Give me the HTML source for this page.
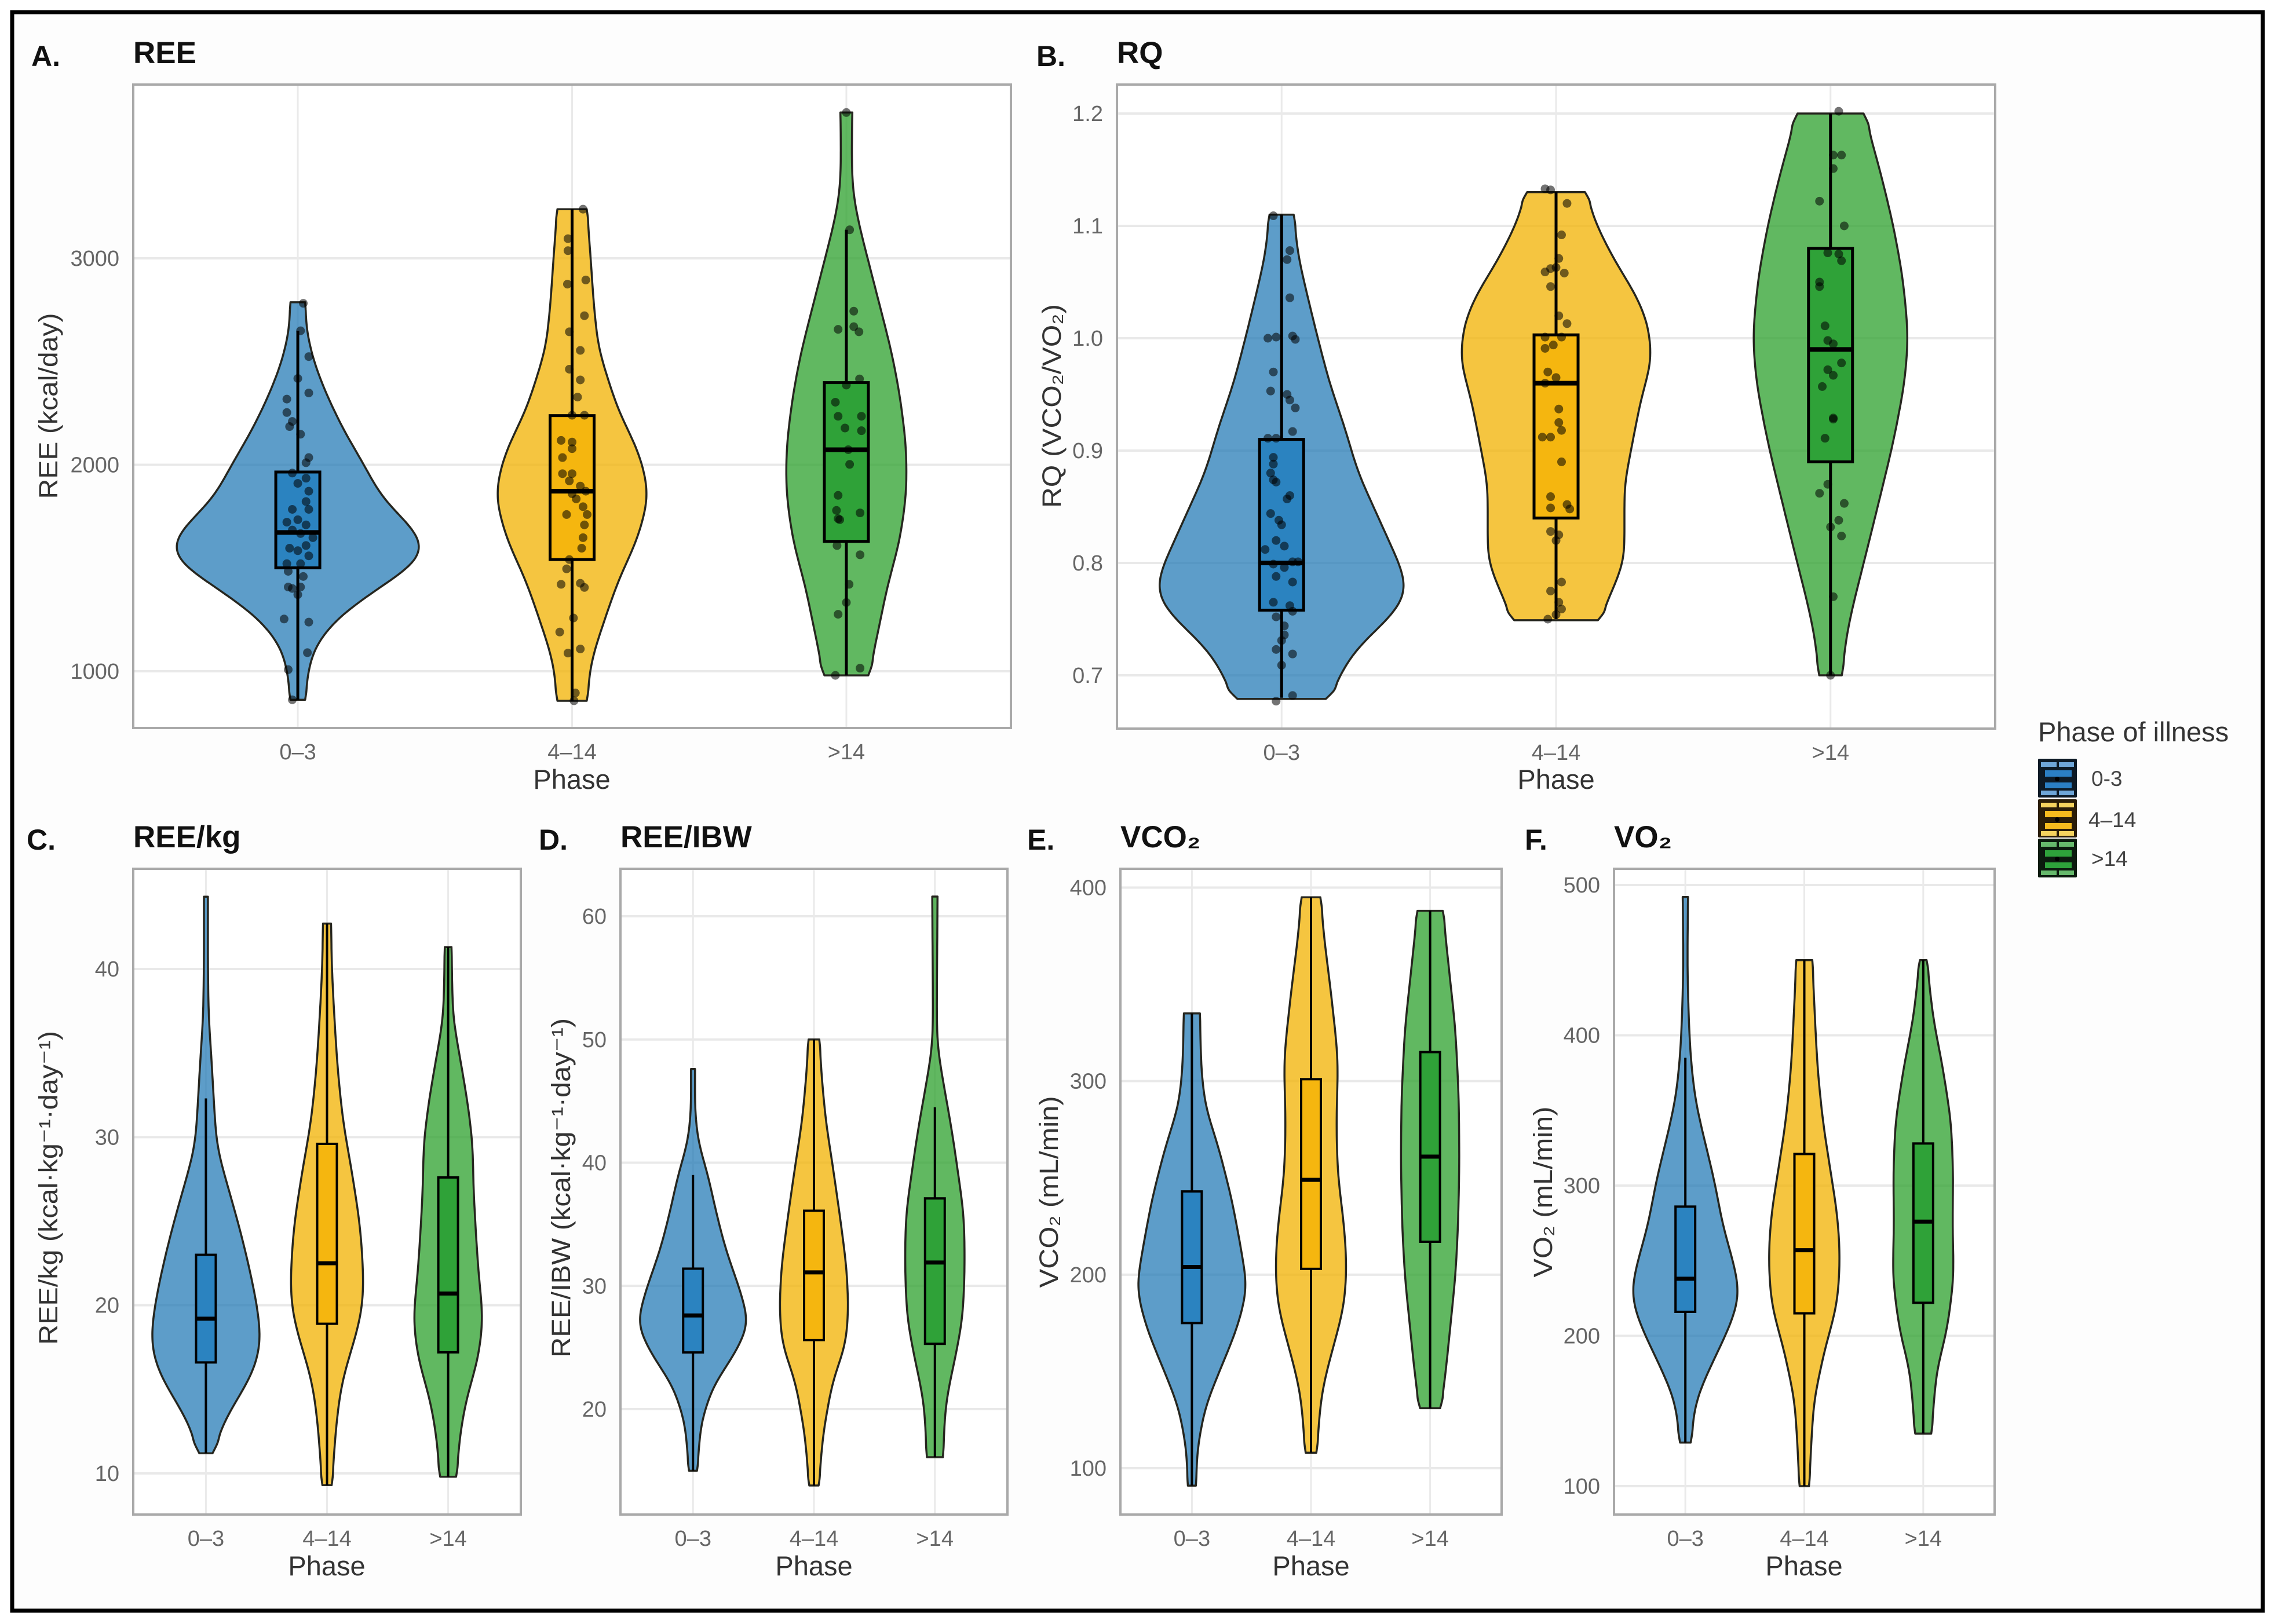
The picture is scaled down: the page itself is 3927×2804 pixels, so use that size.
<!DOCTYPE html>
<html lang="en">
<head>
<meta charset="utf-8">
<title>Phase of illness violin plots</title>
<style>
html,body{margin:0;padding:0;background:#fff;}
svg{display:block;}
text{font-family:"Liberation Sans","DejaVu Sans",sans-serif;}
.panel-letter{font-size:50px;font-weight:700;fill:#111;}
.panel-title{font-size:53px;font-weight:700;fill:#111;}
.axis-title{font-size:47px;fill:#333;}
.y-title{font-size:45px;fill:#333;}
.legend-label{font-size:37px;fill:#444;}
</style>
</head>
<body>
<svg id="figure" xmlns="http://www.w3.org/2000/svg" width="3927" height="2804" viewBox="0 0 3927 2804">
  <rect x="0" y="0" width="3927" height="2804" fill="#ffffff"/>
  <rect x="21" y="21" width="3885" height="2760" fill="#fdfdfd" stroke="#000" stroke-width="7"/>

  <g id="plots"></g>

  <text class="panel-letter" x="54" y="114">A.</text>
  <text class="panel-title" x="230" y="109">REE</text>
  <text class="panel-letter" x="1789" y="114">B.</text>
  <text class="panel-title" x="1928" y="109">RQ</text>
  <text class="panel-letter" x="46" y="1467">C.</text>
  <text class="panel-title" x="230" y="1463">REE/kg</text>
  <text class="panel-letter" x="930" y="1467">D.</text>
  <text class="panel-title" x="1071" y="1463">REE/IBW</text>
  <text class="panel-letter" x="1773" y="1467">E.</text>
  <text class="panel-title" x="1934" y="1463">VCO₂</text>
  <text class="panel-letter" x="2632" y="1467">F.</text>
  <text class="panel-title" x="2786" y="1463">VO₂</text>

  <text class="axis-title" text-anchor="middle" x="987" y="1362">Phase</text>
  <text class="axis-title" text-anchor="middle" x="2686" y="1362">Phase</text>
  <text class="axis-title" text-anchor="middle" x="564" y="2720">Phase</text>
  <text class="axis-title" text-anchor="middle" x="1405" y="2720">Phase</text>
  <text class="axis-title" text-anchor="middle" x="2263" y="2720">Phase</text>
  <text class="axis-title" text-anchor="middle" x="3114" y="2720">Phase</text>

  <text class="y-title" text-anchor="middle" textLength="321" lengthAdjust="spacingAndGlyphs" transform="translate(99 701) rotate(-90)">REE (kcal/day)</text>
  <text class="y-title" text-anchor="middle" textLength="352" lengthAdjust="spacingAndGlyphs" transform="translate(1831 701) rotate(-90)">RQ (VCO₂/VO₂)</text>
  <text class="y-title" text-anchor="middle" textLength="542" lengthAdjust="spacingAndGlyphs" transform="translate(99 2051) rotate(-90)">REE/kg (kcal·kg⁻¹·day⁻¹)</text>
  <text class="y-title" text-anchor="middle" textLength="586" lengthAdjust="spacingAndGlyphs" transform="translate(984 2051) rotate(-90)">REE/IBW (kcal·kg⁻¹·day⁻¹)</text>
  <text class="y-title" text-anchor="middle" textLength="331" lengthAdjust="spacingAndGlyphs" transform="translate(1826 2058) rotate(-90)">VCO₂ (mL/min)</text>
  <text class="y-title" text-anchor="middle" textLength="295" lengthAdjust="spacingAndGlyphs" transform="translate(2679 2058) rotate(-90)">VO₂ (mL/min)</text>

  <g>
    <text x="3518" y="1280" font-size="47" fill="#333">Phase of illness</text>

    <g transform="translate(3518 1310)">
      <rect x="0" y="0" width="67" height="67" rx="2" fill="#0d1a26"/>
      <rect x="5" y="6" width="27" height="8" fill="#6ea6d8"/><rect x="36" y="6" width="26" height="8" fill="#6ea6d8"/>
      <rect x="12" y="20" width="46" height="11" fill="#2b7fc4"/><rect x="12" y="41" width="46" height="10" fill="#2b7fc4"/>
      <rect x="5" y="55" width="27" height="8" fill="#6ea6d8"/><rect x="36" y="55" width="26" height="8" fill="#6ea6d8"/>
      <circle cx="33" cy="35" r="4" fill="#000"/>
    </g>
    <text class="legend-label" x="3610" y="1357">0-3</text>

    <g transform="translate(3518 1380)">
      <rect x="0" y="0" width="67" height="66" rx="2" fill="#2a1d08"/>
      <rect x="5" y="6" width="27" height="8" fill="#f5d35f"/><rect x="36" y="6" width="26" height="8" fill="#f5d35f"/>
      <rect x="12" y="20" width="46" height="11" fill="#f6bb1e"/><rect x="12" y="41" width="46" height="10" fill="#f6bb1e"/>
      <rect x="5" y="55" width="27" height="8" fill="#f5d35f"/><rect x="36" y="55" width="26" height="8" fill="#f5d35f"/>
      <circle cx="33" cy="35" r="4" fill="#000"/>
    </g>
    <text class="legend-label" x="3605" y="1428">4–14</text>

    <g transform="translate(3518 1448)">
      <rect x="0" y="0" width="67" height="67" rx="2" fill="#0b1a0e"/>
      <rect x="5" y="6" width="27" height="8" fill="#66b96c"/><rect x="36" y="6" width="26" height="8" fill="#66b96c"/>
      <rect x="12" y="20" width="46" height="11" fill="#2ea23b"/><rect x="12" y="41" width="46" height="10" fill="#2ea23b"/>
      <rect x="5" y="55" width="27" height="8" fill="#66b96c"/><rect x="36" y="55" width="26" height="8" fill="#66b96c"/>
      <circle cx="33" cy="35" r="4" fill="#000"/>
    </g>
    <text class="legend-label" x="3610" y="1495">&gt;14</text>
  </g>
</svg>

<script>
// ----- shared category labels -----
const categories = ['0–3', '4–14', '>14'];

// ----- Panel A: REE -----
const reeTicks = [1000, 2000, 3000];
const reeBlueValues = [2787, 2649, 2499, 2348, 2173, 1997, 1847, 1747, 1672, 1591, 1521, 1421, 1321, 1245, 1120, 995, 862];
const reeBlueDensity = [11, 13, 24, 42, 68, 100, 125, 155, 180, 190, 178, 130, 85, 55, 25, 15, 11];
const reeBlueBox = [862, 1501, 1672, 1965, 2649];
const reeYellowValues = [3238, 3125, 3000, 2799, 2569, 2373, 2240, 2123, 2007, 1847, 1634, 1446, 1213, 1045, 857];
const reeYellowDensity = [22, 25, 28, 32, 39, 58, 72, 92, 106, 116, 98, 70, 45, 28, 22];
const reeYellowBox = [857, 1541, 1872, 2238, 3238];
const reeGreenValues = [3706, 3501, 3326, 3175, 3000, 2799, 2549, 2348, 2098, 1872, 1621, 1421, 1195, 980];
const reeGreenDensity = [9, 8, 9, 18, 32, 48, 68, 80, 90, 91, 80, 62, 48, 33];
const reeGreenBox = [980, 1629, 2073, 2398, 3138];
const reeBluePoints = [2782, 2649, 2524, 2418, 2348, 2318, 2253, 2210, 2185, 2148, 2035, 2010, 1960, 1935, 1910, 1872, 1822, 1784, 1734, 1784, 1722, 1684, 1709, 1667, 1647, 1596, 1584, 1609, 1559, 1521, 1521, 1484, 1459, 1408, 1401, 1408, 1371, 1253, 1238, 1090, 1008, 862];
const reeBlueJitter = [.02, .01, .04, 0, .04, -.04, -.04, -.02, -.03, .01, .04, .03, -.02, .03, 0, .04, .03, -.02, 0, .04, -.04, -.02, .03, .01, .055, -.03, 0, .03, .04, -.04, .01, -.035, .02, -.035, -.02, .01, 0, -.05, .04, .035, -.035, -.02];
const reeYellowPoints = [3238, 3095, 3037, 2875, 2895, 2722, 2644, 2554, 2463, 2411, 2328, 2240, 2240, 2118, 2110, 2078, 2035, 1957, 1957, 1922, 1897, 1872, 1860, 1835, 1759, 1797, 1759, 1709, 1647, 1596, 1541, 1496, 1421, 1426, 1406, 1258, 1190, 1108, 1088, 895, 857];
const reeYellowJitter = [.04, -.015, -.015, -.017, .05, .045, -.01, .03, -.01, .03, .02, 0, .045, -.04, 0, 0, -.035, -.035, 0, -.01, .03, .05, 0, .015, -.02, .04, .055, .045, .04, .035, -.01, -.02, -.04, .03, .045, .005, -.045, .03, -.015, .012, .007];
const reeGreenPoints = [3706, 3138, 2744, 2656, 2669, 2644, 2416, 2386, 2303, 2235, 2235, 2178, 2165, 2073, 2002, 1852, 1779, 1767, 1734, 1739, 1609, 1564, 1421, 1333, 1276, 1015, 980];
const reeGreenJitter = [0, .012, .027, -.03, .027, .046, .048, 0, -.04, -.03, .055, -.005, .055, .007, .012, -.03, -.036, .05, -.024, -.03, -.034, .05, .01, 0, -.03, .05, -.04];

// ----- Panel B: RQ -----
const rqTicks = [0.7, 0.8, 0.9, 1.0, 1.1, 1.2];
const rqBlueValues = [1.110, 1.075, 1.038, 1.0, .959, .922, .880, .849, .817, .791, .770, .749, .723, .696, .679];
const rqBlueDensity = [15, 20, 32, 45, 60, 78, 95, 115, 135, 152, 157, 132, 90, 70, 55];
const rqBlueBox = [.68, .758, .80, .91, 1.11];
const rqYellowValues = [1.130, 1.101, 1.070, 1.038, 1.012, .980, .944, .907, .870, .838, .802, .775, .749];
const rqYellowDensity = [36, 50, 72, 100, 115, 119, 105, 95, 85, 85, 85, 70, 52];
const rqYellowBox = [.75, .84, .96, 1.003, 1.13];
const rqGreenValues = [1.2, 1.154, 1.101, 1.054, 1.001, .959, .907, .854, .802, .754, .723, .7];
const rqGreenDensity = [41, 60, 78, 90, 97, 92, 78, 60, 42, 25, 17, 14];
const rqGreenBox = [.7, .89, .99, 1.08, 1.2];
const rqBluePoints = [1.109, 1.078, 1.07, 1.036, 1.0, 1.001, 1.002, .999, .97, .953, .95, .945, .938, .917, .911, .911, .894, .888, .88, .874, .872, .86, .857, .844, .838, .834, .82, .815, .812, .801, .799, .801, .796, .788, .783, .765, .762, .757, .752, .744, .736, .731, .723, .719, .709, .677, .682];
const rqBlueJitter = [-.03, .03, .02, .03, -.05, -.02, .04, .05, -.03, -.04, .02, .03, .05, .04, -.05, -.02, -.03, -.03, -.04, -.03, -.02, .03, .02, -.04, -.01, 0, -.02, .01, -.06, .04, -.03, .06, .01, -.02, .04, -.03, .03, .04, -.02, .01, .01, 0, -.02, .04, 0, -.02, .04];
const rqYellowPoints = [1.133, 1.132, 1.12, 1.092, 1.071, 1.059, 1.062, 1.063, 1.058, 1.046, 1.02, 1.013, 1.001, 1.001, .994, .991, .97, .965, .96, .937, .925, .918, .912, .912, .89, .859, .852, .849, .848, .828, .825, .82, .775, .783, .765, .759, .75, .754];
const rqYellowJitter = [-.04, -.02, .04, .02, .01, -.04, -.02, 0, .03, -.02, .01, .04, -.04, .02, -.01, -.04, -.03, 0, -.04, .01, .01, .02, -.05, -.02, .02, -.02, .04, -.02, .05, -.02, .01, 0, -.02, .02, .01, .02, -.03, 0];
const rqGreenPoints = [1.202, 1.163, 1.163, 1.151, 1.122, 1.1, 1.076, 1.075, 1.069, 1.05, 1.046, 1.011, .998, .995, .978, .972, .967, .957, .929, .928, .911, .87, .862, .853, .838, .832, .824, .77, .7];
const rqGreenJitter = [.03, .01, .04, .01, -.04, .05, -.01, .03, .04, -.04, -.04, -.02, -.01, .01, .04, -.01, .01, -.03, .01, .01, -.02, -.01, -.04, .05, .03, 0, .04, .01, 0];

// ----- Panel C: REE/kg -----
const reeKgTicks = [10, 20, 30, 40];
const reeKgBlueValues = [44.3, 40.2, 37.1, 34.9, 32.1, 29.4, 27.2, 24.7, 22.3, 19.8, 17.6, 15.8, 14, 12.1, 11.2];
const reeKgBlueDensity = [3, 3, 4, 8, 12, 16, 32, 50, 65, 78, 84, 70, 40, 14, 10];
const reeKgBlueBox = [11.2, 16.6, 19.2, 23.0, 32.3];
const reeKgYellowValues = [42.7, 40.2, 37.1, 34, 30.9, 27.8, 24.7, 21.7, 19.8, 18, 15.5, 13, 9.3];
const reeKgYellowDensity = [6, 7, 11, 16, 24, 38, 50, 55, 54, 42, 22, 14, 7];
const reeKgYellowBox = [9.3, 18.9, 22.5, 29.6, 42.7];
const reeKgGreenValues = [41.3, 37.1, 34.9, 32.4, 29.7, 26.9, 24.1, 21.7, 19.2, 16.7, 14.6, 12.4, 9.8];
const reeKgGreenDensity = [5, 7, 17, 28, 37, 38, 42, 46, 53, 45, 28, 18, 12];
const reeKgGreenBox = [9.8, 17.2, 20.7, 27.6, 41.3];

// ----- Panel D: REE/IBW -----
const reeIbwTicks = [20, 30, 40, 50, 60];
const reeIbwBlueValues = [47.6, 44.1, 41.6, 39.1, 35.7, 32.8, 29.8, 26.9, 24.4, 21.9, 18.9, 15];
const reeIbwBlueDensity = [3, 3, 8, 22, 36, 50, 70, 85, 62, 30, 12, 6];
const reeIbwBlueBox = [15, 24.6, 27.6, 31.4, 39];
const reeIbwYellowValues = [50, 46.7, 43.3, 39.1, 34.9, 31.5, 28.2, 25.2, 22.3, 18.1, 13.8];
const reeIbwYellowDensity = [8, 12, 18, 30, 41, 49, 52, 48, 28, 14, 7];
const reeIbwYellowBox = [13.8, 25.6, 31.1, 36.1, 50];
const reeIbwGreenValues = [61.6, 53.8, 49.6, 46.7, 42.5, 39.1, 35.7, 31.5, 27.3, 24, 20.6, 16.1];
const reeIbwGreenDensity = [4, 3, 3, 12, 26, 35, 44, 45, 42, 30, 16, 12];
const reeIbwGreenBox = [16.1, 25.3, 31.9, 37.1, 44.5];

// ----- Panel E: VCO2 -----
const vco2Ticks = [100, 200, 300, 400];
const vco2BlueValues = [335, 306, 287, 266, 239, 217, 193, 172, 153, 132, 110, 91];
const vco2BlueDensity = [12, 14, 20, 40, 60, 72, 84, 68, 45, 20, 8, 6];
const vco2BlueBox = [91, 175, 204, 243, 335];
const vco2YellowValues = [395, 373, 346, 311, 279, 252, 225, 204, 183, 161, 140, 108];
const vco2YellowDensity = [14, 20, 30, 41, 38, 40, 50, 54, 50, 32, 16, 8];
const vco2YellowBox = [108, 203, 249, 301, 395];
const vco2GreenValues = [388, 359, 327, 292, 258, 225, 199, 172, 145, 131];
const vco2GreenDensity = [19, 28, 38, 43, 44, 42, 38, 30, 22, 15];
const vco2GreenBox = [131, 217, 261, 315, 388];

// ----- Panel F: VO2 -----
const vo2Ticks = [100, 200, 300, 400, 500];
const vo2BlueValues = [492, 446, 411, 384, 356, 328, 301, 273, 253, 227, 204, 180, 156, 129];
const vo2BlueDensity = [4, 3, 5, 8, 15, 30, 45, 56, 70, 84, 65, 38, 14, 8];
const vo2BlueBox = [129, 216, 238, 286, 385];
const vo2YellowValues = [450, 411, 377, 342, 308, 280, 253, 221, 190, 156, 100];
const vo2YellowDensity = [12, 16, 20, 28, 40, 50, 54, 50, 30, 14, 7];
const vo2YellowBox = [100, 215, 257, 321, 450];
const vo2GreenValues = [450, 411, 377, 342, 308, 273, 239, 204, 177, 135];
const vo2GreenDensity = [5, 15, 30, 42, 45, 44, 46, 36, 20, 12];
const vo2GreenBox = [135, 222, 276, 328, 450];

// ----- series styling -----
const seriesColors = [
  { key: 'blue', violin: '#1f77b4', box: '#2b83c0', opacity: 0.72 },
  { key: 'yellow', violin: '#f2b200', box: '#f5b60f', opacity: 0.75 },
  { key: 'green', violin: '#2ca02c', box: '#2fa238', opacity: 0.75 }
];

// ----- panel layout -----
const panels = [
  { id: 'a', left: 230, right: 1745, top: 146, bottom: 1257, anchor: [1000, 1159, 3000, 446], widthPerDensity: 1.148, boxHalf: 38, lineW: 5, medianW: 8,
    ticks: reeTicks, decimals: 0,
    violins: [[reeBlueValues, reeBlueDensity, reeBlueBox, reeBluePoints, reeBlueJitter], [reeYellowValues, reeYellowDensity, reeYellowBox, reeYellowPoints, reeYellowJitter], [reeGreenValues, reeGreenDensity, reeGreenBox, reeGreenPoints, reeGreenJitter]] },
  { id: 'b', left: 1928, right: 3444, top: 146, bottom: 1258, anchor: [0.7, 1166, 1.2, 196], widthPerDensity: 1.388, boxHalf: 38, lineW: 5, medianW: 8,
    ticks: rqTicks, decimals: 1,
    violins: [[rqBlueValues, rqBlueDensity, rqBlueBox, rqBluePoints, rqBlueJitter], [rqYellowValues, rqYellowDensity, rqYellowBox, rqYellowPoints, rqYellowJitter], [rqGreenValues, rqGreenDensity, rqGreenBox, rqGreenPoints, rqGreenJitter]] },
  { id: 'c', left: 230, right: 899, top: 1500, bottom: 2615, anchor: [10, 2544, 40, 1673], widthPerDensity: 1.148, boxHalf: 17, lineW: 4, medianW: 7,
    ticks: reeKgTicks, decimals: 0,
    violins: [[reeKgBlueValues, reeKgBlueDensity, reeKgBlueBox], [reeKgYellowValues, reeKgYellowDensity, reeKgYellowBox], [reeKgGreenValues, reeKgGreenDensity, reeKgGreenBox]] },
  { id: 'd', left: 1071, right: 1739, top: 1500, bottom: 2615, anchor: [20, 2433, 60, 1582], widthPerDensity: 1.148, boxHalf: 17, lineW: 4, medianW: 7,
    ticks: reeIbwTicks, decimals: 0,
    violins: [[reeIbwBlueValues, reeIbwBlueDensity, reeIbwBlueBox], [reeIbwYellowValues, reeIbwYellowDensity, reeIbwYellowBox], [reeIbwGreenValues, reeIbwGreenDensity, reeIbwGreenBox]] },
  { id: 'e', left: 1934, right: 2592, top: 1500, bottom: 2615, anchor: [100, 2535, 400, 1532.5], widthPerDensity: 1.148, boxHalf: 17, lineW: 4, medianW: 7,
    ticks: vco2Ticks, decimals: 0,
    violins: [[vco2BlueValues, vco2BlueDensity, vco2BlueBox], [vco2YellowValues, vco2YellowDensity, vco2YellowBox], [vco2GreenValues, vco2GreenDensity, vco2GreenBox]] },
  { id: 'f', left: 2786, right: 3443, top: 1500, bottom: 2615, anchor: [100, 2566, 500, 1528], widthPerDensity: 1.148, boxHalf: 17, lineW: 4, medianW: 7,
    ticks: vo2Ticks, decimals: 0,
    violins: [[vo2BlueValues, vo2BlueDensity, vo2BlueBox], [vo2YellowValues, vo2YellowDensity, vo2YellowBox], [vo2GreenValues, vo2GreenDensity, vo2GreenBox]] }
];

const SVG_NS = 'http://www.w3.org/2000/svg';

function make(tag, attrs, parent) {
  const node = document.createElementNS(SVG_NS, tag);
  for (const k in attrs) node.setAttribute(k, attrs[k]);
  parent.appendChild(node);
  return node;
}

function yScaleFor(p) {
  const [v0, px0, v1, px1] = p.anchor;
  return v => px0 + (v - v0) * (px1 - px0) / (v1 - v0);
}

function xStepFor(p) {
  return (p.right - p.left) / (categories.length + 0.2);
}

function xScaleFor(p) {
  const step = xStepFor(p);
  return i => p.left + (i + 0.6) * step;
}

// Render-time smoothing of the outline so it reads as a kernel-density curve
function smoothProfile(values, density) {
  const SAMPLES = 56;
  const first = values[0], last = values[values.length - 1];
  const vs = [], ds = [];
  for (let s = 0; s <= SAMPLES; s++) {
    const v = first + (last - first) * s / SAMPLES;
    let j = 0;
    while (j < values.length - 2 && (values[j + 1] - v) * (last - first) < 0) j++;
    const t = (v - values[j]) / (values[j + 1] - values[j]);
    vs.push(v);
    ds.push(density[j] + (density[j + 1] - density[j]) * t);
  }
  const SIGMA = 1.7;
  const out = ds.map(function (_, i) {
    let sum = 0, weight = 0;
    for (let k = -5; k <= 5; k++) {
      const n = i + k;
      if (n < 0 || n > SAMPLES) continue;
      const w = Math.exp(-k * k / (2 * SIGMA * SIGMA));
      sum += ds[n] * w;
      weight += w;
    }
    return sum / weight;
  });
  out[0] = ds[0];
  out[SAMPLES] = ds[SAMPLES];
  return { vs: vs, ds: out };
}

// Catmull-Rom through a list of [x,y] points, continuing an open path
function smoothSegment(pts) {
  let d = '';
  for (let i = 0; i < pts.length - 1; i++) {
    const p0 = pts[Math.max(i - 1, 0)];
    const p1 = pts[i];
    const p2 = pts[i + 1];
    const p3 = pts[Math.min(i + 2, pts.length - 1)];
    const c1x = p1[0] + (p2[0] - p0[0]) / 6;
    const c1y = p1[1] + (p2[1] - p0[1]) / 6;
    const c2x = p2[0] - (p3[0] - p1[0]) / 6;
    const c2y = p2[1] - (p3[1] - p1[1]) / 6;
    d += 'C' + c1x.toFixed(1) + ' ' + c1y.toFixed(1) + ' ' + c2x.toFixed(1) + ' ' + c2y.toFixed(1) + ' ' + p2[0].toFixed(1) + ' ' + p2[1].toFixed(1);
  }
  return d;
}

function violinPath(cx, values, density, yScale, k) {
  const prof = smoothProfile(values, density);
  const right = prof.vs.map((v, i) => [cx + prof.ds[i] * k, yScale(v)]);
  const left = prof.vs.map((v, i) => [cx - prof.ds[i] * k, yScale(v)]).reverse();
  return 'M' + right[0][0].toFixed(1) + ' ' + right[0][1].toFixed(1) +
    smoothSegment(right) +
    'L' + left[0][0].toFixed(1) + ' ' + left[0][1].toFixed(1) +
    smoothSegment(left) + 'Z';
}

const plotsRoot = document.getElementById('plots');

panels.forEach(function (p) {
  const y = yScaleFor(p);
  const x = xScaleFor(p);
  const step = xStepFor(p);

  const g = make('g', {}, plotsRoot);
  
  

  const bg = make('rect', { x: p.left, y: p.top, width: p.right - p.left, height: p.bottom - p.top, fill: '#ffffff' }, g);
  
  

  p.ticks.forEach(function (t) {
    const gy = make('line', { x1: p.left, x2: p.right, y1: y(t), y2: y(t), stroke: '#e9e9e9', 'stroke-width': 4 }, g);
    
    
    const lab = make('text', { x: p.left - 24, y: y(t) + 13, 'text-anchor': 'end', 'font-size': 38, fill: '#666' }, g);
    
    
    lab.textContent = t.toFixed(p.decimals);
  });

  categories.forEach(function (c, i) {
    const gx = make('line', { x1: x(i), x2: x(i), y1: p.top, y2: p.bottom, stroke: '#eaeaea', 'stroke-width': 3 }, g);
    
    
    const lab = make('text', { x: x(i), y: p.bottom + 54, 'text-anchor': 'middle', 'font-size': 38, fill: '#666' }, g);
    
    
    lab.textContent = c;
  });

  p.violins.forEach(function (v, i) {
    const color = seriesColors[i];
    const values = v[0], density = v[1], box = v[2], pts = v[3], jitter = v[4];
    const cx = x(i);

    const shape = make('path', {
      d: violinPath(cx, values, density, y, p.widthPerDensity),
      fill: color.violin, 'fill-opacity': color.opacity,
      stroke: '#26261f', 'stroke-width': 3.5, 'stroke-linejoin': 'round'
    }, g);
    
    

    const whisker = make('line', { x1: cx, x2: cx, y1: y(box[0]), y2: y(box[4]), stroke: '#000', 'stroke-width': p.lineW }, g);
    
    

    const rect = make('rect', {
      x: cx - p.boxHalf, y: y(box[3]), width: p.boxHalf * 2, height: y(box[1]) - y(box[3]),
      fill: color.box, stroke: '#000', 'stroke-width': p.lineW
    }, g);
    
    

    const median = make('line', { x1: cx - p.boxHalf, x2: cx + p.boxHalf, y1: y(box[2]), y2: y(box[2]), stroke: '#000', 'stroke-width': p.medianW }, g);
    
    

    if (pts) {
      pts.forEach(function (val, j) {
        const dot = make('circle', { cx: cx + (jitter[j] || 0) * step, cy: y(val), r: 7.5, fill: '#000', 'fill-opacity': 0.55 }, g);
        
        
      });
    }
  });

  const border = make('rect', { x: p.left, y: p.top, width: p.right - p.left, height: p.bottom - p.top, fill: 'none', stroke: '#a9a9a9', 'stroke-width': 4 }, g);
  
  
});
</script>
</body>
</html>
